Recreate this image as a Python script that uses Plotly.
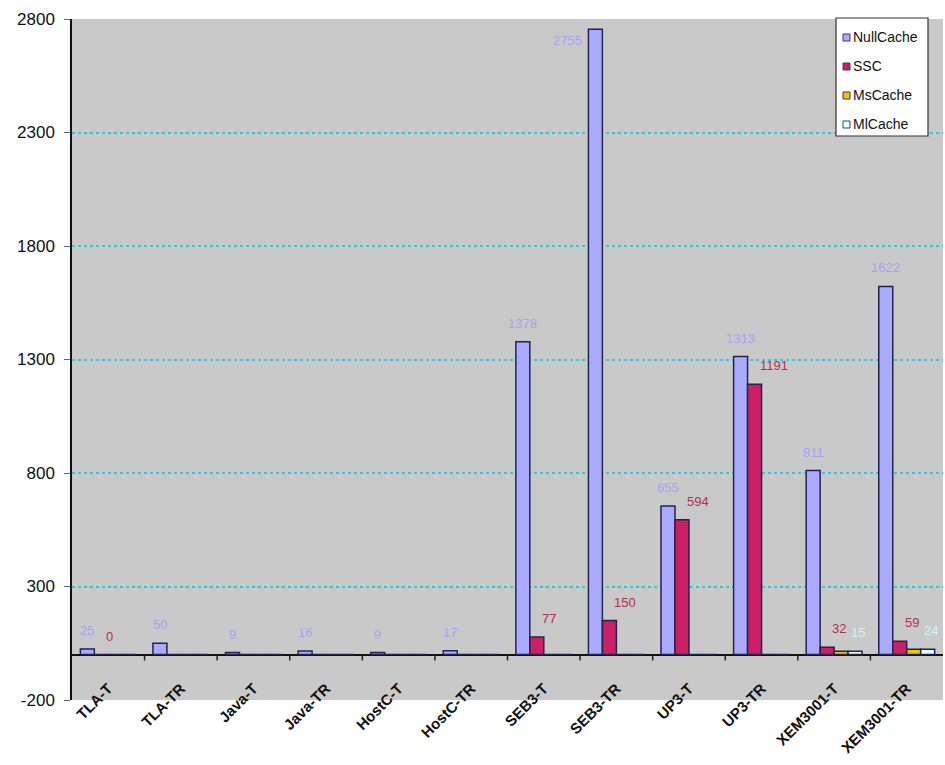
import plotly.graph_objects as go

categories = ["TLA-T", "TLA-TR", "Java-T", "Java-TR", "HostC-T", "HostC-TR",
              "SEB3-T", "SEB3-TR", "UP3-T", "UP3-TR", "XEM3001-T", "XEM3001-TR"]
series_names = ["NullCache", "SSC", "MsCache", "MlCache"]
null_cache = [25, 50, 9, 16, 9, 17, 1378, 2755, 655, 1313, 811, 1622]
ssc = [0, 0, 0, 0, 0, 0, 77, 150, 594, 1191, 32, 59]
ms_cache = [0, 0, 0, 0, 0, 0, 0, 0, 0, 0, 15, 24]
ml_cache = [0, 0, 0, 0, 0, 0, 0, 0, 0, 0, 15, 24]
y_ticks = [-200, 300, 800, 1300, 1800, 2300, 2800]
y_tick_text = ["-200", "300", "800", "1300", "1800", "2300", "2800"]

# which values carry a printed label
null_labelled = [True] * 12
ssc_labelled = [True, False, False, False, False, False, True, True, True, True, True, True]
ms_labelled = [False] * 12
ml_labelled = [False] * 10 + [True, True]

series_values = [null_cache, ssc, ms_cache, ml_cache]
series_labelled = [null_labelled, ssc_labelled, ms_labelled, ml_labelled]
bar_colors = ["#aaaaff", "#cc1f66", "#f2c400", "#e8ffff"]
label_colors = ["#a4a4f0", "#b0304f", None, "#d4f4f4"]

FONT = "Liberation Sans, Arial, sans-serif"
EDGE = dict(color="#23234f", width=1.5)
W, H = 945, 765
M = dict(l=72, r=2, t=19, b=65)
BARGAP = 0.23

fig = go.Figure()
for name, vals, col in zip(series_names, series_values, bar_colors):
    fig.add_trace(go.Bar(name=name, x=categories, y=vals,
                         marker=dict(color=col, line=EDGE), showlegend=False))

# value labels, placed relative to each bar's centre (category index units)
bar_w = (1 - BARGAP) / len(series_names)
for k, (vals, flags, lc) in enumerate(zip(series_values, series_labelled, label_colors)):
    for i, (v, show) in enumerate(zip(vals, flags)):
        if not show:
            continue
        xc = i + (k - (len(series_names) - 1) / 2) * bar_w
        f = dict(color=lc, size=13, family=FONT)
        if k == 0 and v == max(vals):
            # tallest bar: label tucked beside its top
            fig.add_annotation(x=xc - bar_w / 2, y=v, text=str(v), showarrow=False,
                               xanchor="right", yanchor="top", xshift=-4, yshift=-2, font=f)
        elif k == 0:
            fig.add_annotation(x=xc, y=v, text=str(v), showarrow=False,
                               xanchor="center", yanchor="bottom", yshift=9, font=f)
        elif k == 3:
            fig.add_annotation(x=xc, y=v, text=str(v), showarrow=False,
                               xanchor="center", yanchor="bottom", xshift=3, yshift=9, font=f)
        else:
            fig.add_annotation(x=xc, y=v, text=str(v), showarrow=False,
                               xanchor="left", yanchor="bottom", xshift=3, yshift=9, font=f)

# small category separator ticks hanging from the zero line
for i in range(1, len(categories)):
    fig.add_shape(type="line", xref="x", yref="y", x0=i - 0.5, x1=i - 0.5, y0=0, y1=-26,
                  line=dict(color="#222222", width=1.5))

# boxed legend in the upper right corner (pixel layout converted to paper units)
pw = W - M["l"] - M["r"]
ph = H - M["t"] - M["b"]
def px_x(p):
    return (p - M["l"]) / pw
def px_y(p):
    return (H - M["b"] - p) / ph

fig.add_shape(type="rect", xref="paper", yref="paper",
              x0=px_x(836), x1=px_x(928), y0=px_y(136), y1=px_y(18),
              fillcolor="white", line=dict(color="#333333", width=1.2), layer="above")
for j, (name, col) in enumerate(zip(series_names, bar_colors)):
    yc = 37 + j * 29
    fig.add_shape(type="rect", xref="paper", yref="paper",
                  x0=px_x(843), x1=px_x(850), y0=px_y(yc + 4), y1=px_y(yc - 3),
                  fillcolor=col, line=dict(color="#3a3a6a", width=1), layer="above")
    fig.add_annotation(xref="paper", yref="paper", x=px_x(851), y=px_y(yc),
                       text=name, showarrow=False, xanchor="left", yanchor="middle",
                       font=dict(size=14, family=FONT, color="#111111"))

fig.update_layout(
    width=W, height=H,
    margin=M,
    paper_bgcolor="white", plot_bgcolor="#c9c9c9",
    barmode="group", bargap=BARGAP, bargroupgap=0,
    font=dict(family=FONT, size=13, color="#111111"),
    showlegend=False,
)
fig.update_xaxes(
    type="category", tickangle=-45, showgrid=False, ticks="",
    tickfont=dict(size=15, family=FONT, color="#111111", weight="bold"),
    showline=False, range=[-0.5, len(categories) - 0.5],
    automargin=False, ticklabelstandoff=-24)
fig.update_yaxes(
    range=[y_ticks[0], y_ticks[-1]], tickmode="array",
    tickvals=y_ticks, ticktext=y_tick_text,
    showgrid=True, gridcolor="#3fc3d3", gridwidth=2, griddash="dot",
    zeroline=True, zerolinecolor="#111111", zerolinewidth=2,
    showline=True, linecolor="#111111", linewidth=1.5,
    ticks="outside", ticklen=6, tickcolor="#666666",
    tickfont=dict(size=17, family=FONT, color="#111111"),
    automargin=False, ticklabelstandoff=6)

fig.write_html("out.html")
